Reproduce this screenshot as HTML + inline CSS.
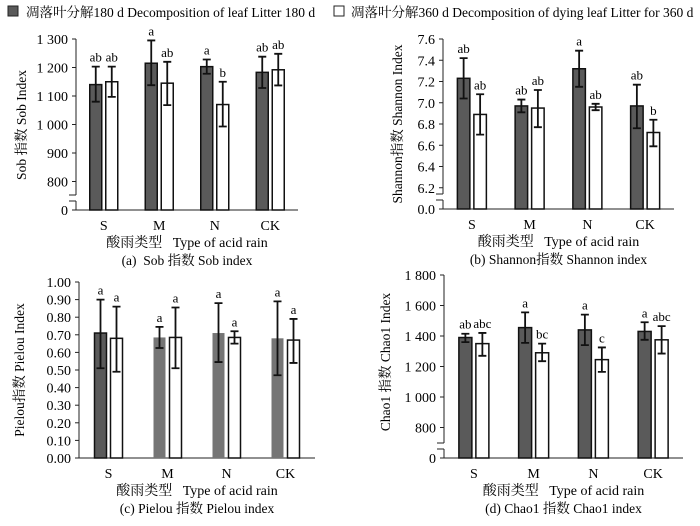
<!DOCTYPE html>
<html><head><meta charset="utf-8"><style>
body{margin:0;background:#fff;}
svg{display:block;font-family:"Liberation Serif","Noto Serif CJK SC","Noto Sans CJK SC",serif;}
text{white-space:pre;}
</style></head><body>
<svg id="chart" width="700" height="526" viewBox="0 0 700 526" xmlns="http://www.w3.org/2000/svg">
<g>
<rect x="8" y="6" width="10" height="10" fill="#5a5a5a" stroke="#222" stroke-width="1"/>
<text x="26" y="17" font-size="13.5">凋落叶分解180 d Decomposition of leaf Litter 180 d</text>
<rect x="334" y="6" width="10" height="10" fill="#fff" stroke="#222" stroke-width="1"/>
<text x="351" y="17" font-size="13.5">凋落叶分解360 d Decomposition of dying leaf Litter for 360 d</text>
</g>
</svg>
<script>
const categories = ["S","M","N","CK"];
// (a) Sob
const sobTicks = ["1 300","1 200","1 100","1 000","900","800","0"];
const sobTickVals = [1300,1200,1100,1000,900,800,700];
const sob180 = [1140,1215,1203,1183];
const sob180Lo = [1080,1138,1178,1128];
const sob180Hi = [1203,1295,1228,1238];
const sob360 = [1150,1145,1070,1192];
const sob360Lo = [1097,1068,993,1137];
const sob360Hi = [1203,1220,1150,1248];
const sob180Sig = ["ab","a","a","ab"];
const sob360Sig = ["ab","ab","b","ab"];
// (b) Shannon
const shTicks = ["7.6","7.4","7.2","7.0","6.8","6.6","6.4","6.2","0.0"];
const shTickVals = [7.6,7.4,7.2,7.0,6.8,6.6,6.4,6.2,6.0];
const sh180 = [7.23,6.97,7.32,6.97];
const sh180Lo = [7.04,6.91,7.15,6.76];
const sh180Hi = [7.42,7.03,7.49,7.17];
const sh360 = [6.89,6.95,6.96,6.72];
const sh360Lo = [6.70,6.77,6.93,6.59];
const sh360Hi = [7.08,7.12,6.99,6.84];
const sh180Sig = ["ab","ab","a","ab"];
const sh360Sig = ["ab","ab","ab","b"];
// (c) Pielou
const piTicks = ["1.00","0.90","0.80","0.70","0.60","0.50","0.40","0.30","0.20","0.10","0.00"];
const piTickVals = [1.0,0.9,0.8,0.7,0.6,0.5,0.4,0.3,0.2,0.1,0.0];
const pi180 = [0.71,0.685,0.71,0.68];
const pi180Lo = [0.51,0.625,0.545,0.47];
const pi180Hi = [0.90,0.745,0.88,0.89];
const pi360 = [0.68,0.685,0.685,0.67];
const pi360Lo = [0.49,0.51,0.65,0.54];
const pi360Hi = [0.86,0.855,0.72,0.79];
const pi180Sig = ["a","a","a","a"];
const pi360Sig = ["a","a","a","a"];
// (d) Chao1
const chTicks = ["1 800","1 600","1 400","1 200","1 000","800","0"];
const chTickVals = [1800,1600,1400,1200,1000,800,600];
const ch180 = [1390,1455,1440,1430];
const ch180Lo = [1360,1355,1340,1375];
const ch180Hi = [1415,1555,1540,1490];
const ch360 = [1350,1290,1245,1375];
const ch360Lo = [1270,1235,1165,1285];
const ch360Hi = [1420,1350,1325,1465];
const ch180Sig = ["ab","a","a","a"];
const ch360Sig = ["abc","bc","c","abc"];

const NS="http://www.w3.org/2000/svg";
const svg=document.getElementById('chart');
function mk(tag,attrs,parent,txt){const e=document.createElementNS(NS,tag);for(const k in attrs)e.setAttribute(k,attrs[k]);if(txt!==undefined)e.textContent=txt;parent.appendChild(e);return e;}

function panel(cfg){
  const g=mk('g',{},svg);
  
  
  const vmin=cfg.tickVals[cfg.tickVals.length-1], vmax=cfg.tickVals[0];
  const y=v=>cfg.y0+(v-vmin)/(vmax-vmin)*(cfg.yTop-cfg.y0);
  const n=categories.length, gw=(cfg.x1-cfg.x0)/n;
  const cx=i=>cfg.x0+gw*(i+0.5);
  const ax=mk('path',{d:cfg.brk?`M${cfg.x0},${cfg.yTop} V${cfg.y0-15} M${cfg.x0},${cfg.y0-9} V${cfg.y0} H${cfg.x1}`:`M${cfg.x0},${cfg.yTop} V${cfg.y0} H${cfg.x1}`,stroke:'#222','stroke-width':1,fill:'none'},g);
  
  
  if(cfg.brk){
    const b=mk('path',{d:`M${cfg.x0-7},${cfg.y0-15} H${cfg.x0} M${cfg.x0-7},${cfg.y0-9} H${cfg.x0}`,stroke:'#222','stroke-width':1},g);
    
    
  }
  cfg.tickVals.forEach((v,i)=>{
    const t=mk('line',{x1:cfg.x0-4,x2:cfg.x0,y1:y(v),y2:y(v),stroke:'#222'},g);
    
    
    const l=mk('text',{x:cfg.x0-8,y:y(v)+5,'font-size':14,'text-anchor':'end'},g,cfg.ticks[i]);
    
    
  });
  const bw=cfg.bw;
  categories.forEach((c,i)=>{
    const series=[[cfg.a,cfg.aLo,cfg.aHi,cfg.aSig,-1],[cfg.b,cfg.bLo,cfg.bHi,cfg.bSig,1]];
    series.forEach((s,k)=>{
      const bx = s[4]<0 ? cx(i)-2-bw : cx(i)+2;
      const dark=s[4]<0;
      const noBorder = dark && cfg.lightDark && i>0;
      const r=mk('rect',{x:bx,y:y(s[0][i]),width:bw,height:cfg.y0-y(s[0][i]),fill:dark?(noBorder?'#757575':'#5a5a5a'):'#fff',stroke:noBorder?'none':'#111','stroke-width':1.5},g);
      
      
      const mx=bx+bw/2, lo=y(s[1][i]), hi=y(s[2][i]);
      const e=mk('path',{d:`M${mx},${lo} V${hi} M${mx-4},${lo} H${mx+4} M${mx-4},${hi} H${mx+4}`,stroke:'#111','stroke-width':1.8,fill:'none'},g);
      
      
      const tl=mk('text',{x:mx,y:hi-5,'font-size':13,'text-anchor':'middle'},g,s[3][i]);
      
      
    });
    const xl=mk('text',{x:cx(i),y:cfg.y0+20,'font-size':14,'text-anchor':'middle'},g,c);
    
    
  });
  const xt=mk('text',{x:(cfg.x0+cfg.x1)/2,y:cfg.y0+37,'font-size':14,'text-anchor':'middle'},g,'酸雨类型   Type of acid rain');
  
  
  const cap=mk('text',{x:(cfg.x0+cfg.x1)/2,y:cfg.y0+55,'font-size':13.5,'text-anchor':'middle'},g,cfg.caption);
  
  
  const yt=mk('text',{x:0,y:0,'font-size':13.5,'text-anchor':'middle',transform:`translate(${cfg.ytx},${cfg.yty}) rotate(-90)`},g,cfg.ytitle);
  
  
}

panel({name:'panel-a-sob',x0:76,x1:298,y0:210,yTop:39,bw:12,brk:true,ticks:sobTicks,tickVals:sobTickVals,
  a:sob180,aLo:sob180Lo,aHi:sob180Hi,aSig:sob180Sig,b:sob360,bLo:sob360Lo,bHi:sob360Hi,bSig:sob360Sig,
  caption:'(a)  Sob 指数 Sob index',ytitle:'Sob 指数 Sob Index',ytx:26,yty:125});
panel({name:'panel-b-shannon',x0:443,x1:674,y0:209,yTop:39,bw:12.5,brk:true,ticks:shTicks,tickVals:shTickVals,
  a:sh180,aLo:sh180Lo,aHi:sh180Hi,aSig:sh180Sig,b:sh360,bLo:sh360Lo,bHi:sh360Hi,bSig:sh360Sig,
  caption:'(b) Shannon指数 Shannon index',ytitle:'Shannon指数 Shannon Index',ytx:402,yty:124});
panel({name:'panel-c-pielou',x0:79,x1:315,y0:458,yTop:282,bw:12,brk:false,lightDark:true,ticks:piTicks,tickVals:piTickVals,
  a:pi180,aLo:pi180Lo,aHi:pi180Hi,aSig:pi180Sig,b:pi360,bLo:pi360Lo,bHi:pi360Hi,bSig:pi360Sig,
  caption:'(c) Pielou 指数 Pielou index',ytitle:'Pielou指数 Pielou Index',ytx:24,yty:370});
panel({name:'panel-d-chao1',x0:444,x1:683,y0:458,yTop:275,bw:13,brk:true,ticks:chTicks,tickVals:chTickVals,
  a:ch180,aLo:ch180Lo,aHi:ch180Hi,aSig:ch180Sig,b:ch360,bLo:ch360Lo,bHi:ch360Hi,bSig:ch360Sig,
  caption:'(d) Chao1 指数 Chao1 index',ytitle:'Chao1 指数 Chao1 Index',ytx:390,yty:362});
</script>
</body></html>
